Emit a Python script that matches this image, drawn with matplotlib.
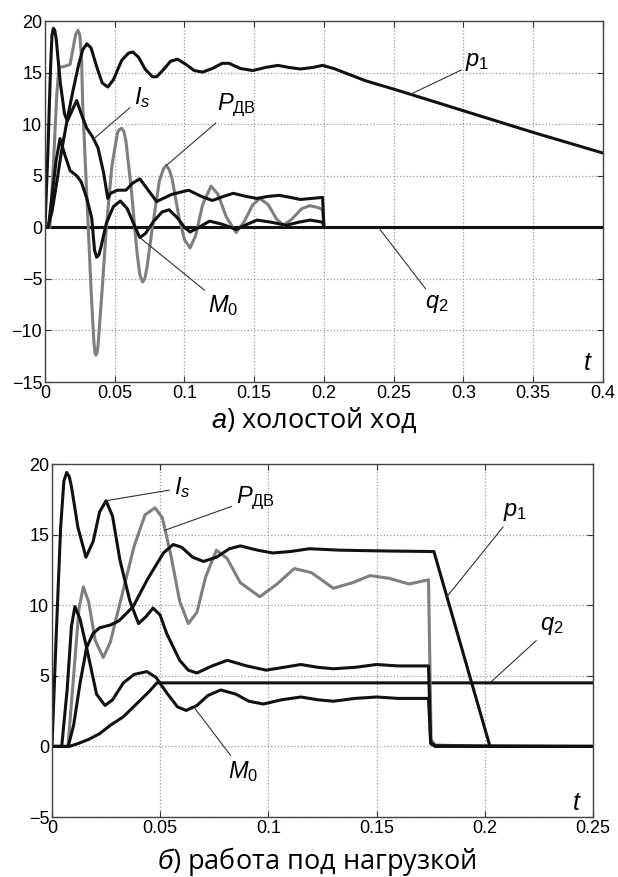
import matplotlib
matplotlib.use("Agg")
import matplotlib.pyplot as plt

# ---- а) холостой ход (no-load) ----
t_is_a = [0, 0.002, 0.004, 0.005, 0.006, 0.007, 0.008, 0.011, 0.014, 0.016, 0.019, 0.0227, 0.026, 0.030,
          0.034, 0.038, 0.042, 0.045, 0.047, 0.052, 0.058, 0.063, 0.068, 0.074, 0.080, 0.091, 0.103,
          0.112, 0.120, 0.128, 0.135, 0.144, 0.152, 0.160, 0.168, 0.176, 0.183, 0.191, 0.199, 0.2]
is_a = [0, 7, 15.5, 18.6, 19.3, 19.1, 18.3, 14.0, 11.0, 10.3, 11.2, 12.3, 11.0, 9.6,
        8.8, 7.7, 5.3, 2.8, 3.3, 3.6, 3.6, 4.3, 4.7, 3.6, 2.5, 3.2, 3.6,
        3.0, 2.6, 3.0, 3.3, 3.0, 2.8, 3.0, 3.1, 2.9, 2.7, 2.8, 2.9, 0]

t_pdv_a = [0, 0.0035, 0.006, 0.0085, 0.010, 0.014, 0.018, 0.021, 0.022, 0.0237, 0.025, 0.0262, 0.027,
           0.029, 0.031, 0.033, 0.035, 0.0358, 0.0365, 0.0373, 0.038, 0.041, 0.044, 0.048, 0.052,
           0.0535, 0.055, 0.0565, 0.058, 0.062, 0.066, 0.068, 0.070, 0.0715, 0.073, 0.077, 0.082,
           0.085, 0.087, 0.089, 0.091, 0.096, 0.100, 0.104, 0.108, 0.113, 0.119, 0.124, 0.130, 0.137,
           0.143, 0.149, 0.154, 0.160, 0.166, 0.171, 0.177, 0.184, 0.190, 0.196, 0.199, 0.2]
pdv_a = [0, 0, 6, 13, 15.5, 15.6, 15.8, 18, 18.7, 19.1, 18.6, 16.5, 12,
         6, 0, -6, -11, -12.1, -12.4, -12.2, -11.5, -6, 0, 6, 9.2,
         9.5, 9.6, 9.3, 8.4, 3.5, -2.5, -4.6, -5.3, -5.0, -4, 0, 4.5,
         5.7, 6.0, 5.6, 4.8, 1.0, -1.2, -2.0, -0.8, 2.2, 4.0, 3.2, 1.0, -0.5,
         0.6, 2.2, 2.8, 2.2, 0.8, 0.2, 0.8, 1.8, 2.1, 1.9, 1.7, 0]

t_m0_a = [0, 0.0024, 0.005, 0.008, 0.0108, 0.0143, 0.018, 0.0227, 0.026, 0.030, 0.0335, 0.0355, 0.037,
          0.0385, 0.040, 0.044, 0.049, 0.054, 0.059, 0.064, 0.068, 0.072, 0.078, 0.084, 0.089, 0.095,
          0.100, 0.104, 0.109, 0.118, 0.127, 0.137, 0.145, 0.152, 0.162, 0.173, 0.182, 0.190, 0.199, 0.2]
m0_a = [0, 0, 3, 6.5, 8.6, 7.0, 5.5, 5.0, 4.4, 2.8, 0.9, -2.2, -2.9,
        -2.7, -2.0, 0.4, 2.0, 2.55, 1.8, 0.2, -1.0, -0.6, 0.6, 1.5, 1.7, 0.9,
        0.0, -0.45, -0.1, 0.6, 0.3, -0.2, 0.3, 0.7, 0.5, 0.2, 0.5, 0.7, 0.5, 0]

t_p1_a = [0, 0.002, 0.005, 0.008, 0.012, 0.016, 0.020, 0.024, 0.027, 0.030, 0.033, 0.037, 0.041,
          0.045, 0.049, 0.055, 0.060, 0.063, 0.067, 0.072, 0.077, 0.080, 0.085, 0.090, 0.095, 0.101,
          0.107, 0.113, 0.120, 0.127, 0.132, 0.140, 0.149, 0.158, 0.167, 0.175, 0.183, 0.192, 0.199,
          0.207, 0.230, 0.250, 0.262, 0.300, 0.350, 0.400]
p1_a = [0, 0, 1.5, 4, 7.5, 10.5, 13.2, 15.7, 17.2, 17.8, 17.4, 15.6, 14.0,
        13.6, 14.3, 16.2, 16.9, 17.0, 16.5, 15.3, 14.6, 14.6, 15.3, 16.1, 16.3, 15.8,
        15.2, 15.05, 15.4, 15.9, 15.9, 15.4, 15.2, 15.5, 15.7, 15.5, 15.35, 15.5, 15.7,
        15.4, 14.2, 13.4, 12.9, 11.3, 9.2, 7.2]

t_q2_a = [0, 0.4]
q2_a = [0, 0]

# ---- б) работа под нагрузкой (loaded) ----
t_is_b = [0, 0.002, 0.004, 0.0055, 0.0068, 0.008, 0.009, 0.012, 0.0157, 0.019, 0.022, 0.025, 0.028,
          0.0314, 0.036, 0.040, 0.0435, 0.0467, 0.050, 0.053, 0.059, 0.063, 0.067, 0.074, 0.081,
          0.090, 0.099, 0.107, 0.115, 0.123, 0.130, 0.140, 0.150, 0.160, 0.174, 0.175, 0.177, 0.25]
is_b = [0, 8, 15.5, 18.8, 19.4, 19.1, 18.4, 15.5, 13.4, 14.5, 16.6, 17.4, 16.3,
        13.2, 10.3, 8.7, 9.2, 9.8, 9.3, 8.0, 6.1, 5.4, 5.2, 5.7, 6.1,
        5.7, 5.4, 5.6, 5.8, 5.6, 5.5, 5.6, 5.8, 5.7, 5.7, 0.3, 0.05, 0]

t_pdv_b = [0, 0.0074, 0.010, 0.0125, 0.0145, 0.017, 0.020, 0.0237, 0.027, 0.032, 0.038, 0.043, 0.0476,
           0.051, 0.055, 0.059, 0.063, 0.067, 0.071, 0.076, 0.081, 0.087, 0.096, 0.104, 0.112, 0.120,
           0.130, 0.139, 0.147, 0.156, 0.165, 0.174, 0.1752, 0.177, 0.200, 0.25]
pdv_b = [0, 0, 5, 9.8, 11.3, 10.2, 7.5, 6.3, 7.4, 10.5, 14.2, 16.4, 16.9,
         16.2, 13.5, 10.3, 8.7, 9.5, 12.0, 13.9, 13.3, 11.6, 10.6, 11.5, 12.6, 12.3,
         11.2, 11.6, 12.1, 11.9, 11.5, 11.8, 0.5, 0.1, 0, 0]

t_p1_b = [0, 0.0075, 0.010, 0.013, 0.016, 0.019, 0.022, 0.027, 0.031, 0.0375, 0.044, 0.0515, 0.056,
          0.060, 0.065, 0.070, 0.076, 0.082, 0.087, 0.095, 0.102, 0.110, 0.119, 0.133, 0.150, 0.1765,
          0.2024, 0.25]
p1_b = [0, 0, 1.5, 4.5, 7.0, 8.0, 8.4, 8.6, 8.9, 9.9, 11.8, 13.7, 14.3,
        14.1, 13.4, 13.1, 13.4, 14.0, 14.2, 13.9, 13.7, 13.8, 14.0, 13.9, 13.85, 13.8,
        0, 0]

t_m0_b = [0, 0.0045, 0.007, 0.009, 0.0106, 0.013, 0.016, 0.0206, 0.0245, 0.028, 0.033, 0.038, 0.0438,
          0.048, 0.053, 0.058, 0.062, 0.067, 0.072, 0.078, 0.085, 0.091, 0.0977, 0.106, 0.115, 0.123,
          0.130, 0.140, 0.150, 0.160, 0.174, 0.175, 0.177, 0.25]
m0_b = [0, 0, 4, 8.5, 9.9, 9.0, 7.0, 3.7, 2.9, 3.3, 4.5, 5.1, 5.3,
        4.9, 3.8, 2.8, 2.55, 2.9, 3.6, 4.0, 3.7, 3.2, 3.0, 3.3, 3.5, 3.3,
        3.2, 3.4, 3.5, 3.4, 3.4, 0.2, 0, 0]

t_q2_b = [0, 0.008, 0.012, 0.017, 0.022, 0.027, 0.033, 0.037, 0.041, 0.045, 0.0485, 0.25]
q2_b = [0, 0, 0.2, 0.5, 0.9, 1.5, 2.1, 2.7, 3.3, 3.9, 4.5, 4.5]

BLACK = "#111111"
GRAY = "#7f7f7f"

plt.rcParams["font.family"] = ["Liberation Sans", "DejaVu Sans"]
plt.rcParams["mathtext.fontset"] = "custom"
plt.rcParams["mathtext.it"] = "Liberation Sans:italic"
plt.rcParams["mathtext.rm"] = "Liberation Sans"


def style_axes(ax, xlim, ylim, xticks, yticks):
    ax.set_xlim(*xlim)
    ax.set_ylim(*ylim)
    ax.set_xticks(xticks)
    ax.set_yticks(yticks)
    ax.set_xticklabels([f"{v:g}" for v in xticks])
    ax.set_yticklabels([f"{v:g}".replace("-", "\u2212") for v in yticks])
    ax.grid(True, linestyle=":", color="#999999", linewidth=0.9)
    ax.tick_params(direction="in", top=True, right=True, length=4, labelsize=13, pad=2,
                   color="#333333")
    for s in ax.spines.values():
        s.set_color("#444444")
        s.set_linewidth(1.0)


def label(ax, text, xy, xytext):
    ax.annotate(text, xy=xy, xytext=xytext, fontsize=17, ha="center", va="center",
                arrowprops=dict(arrowstyle="-", color="#333333", lw=0.8,
                                shrinkA=1, shrinkB=0))


def main():
    fig = plt.figure(figsize=(6.18, 8.77), dpi=100)
    ax1 = fig.add_axes([0.0728, 0.5644, 0.9029, 0.4116])
    ax2 = fig.add_axes([0.0841, 0.0684, 0.8754, 0.4025])

    # top chart
    lw = 2.2
    ax1.plot(t_q2_a, q2_a, color=BLACK, lw=lw)
    ax1.plot(t_pdv_a, pdv_a, color=GRAY, lw=lw)
    ax1.plot(t_m0_a, m0_a, color=BLACK, lw=lw)
    ax1.plot(t_is_a, is_a, color=BLACK, lw=lw)
    ax1.plot(t_p1_a, p1_a, color=BLACK, lw=lw)
    style_axes(ax1, (0, 0.4), (-15, 20),
               [0, 0.05, 0.1, 0.15, 0.2, 0.25, 0.3, 0.35, 0.4], [-15, -10, -5, 0, 5, 10, 15, 20])
    label(ax1, r"$I_s$", (0.036, 8.7), (0.0695, 12.6))
    label(ax1, r"$P_{\mathrm{ДВ}}$", (0.087, 6.0), (0.137, 11.8))
    label(ax1, r"$p_1$", (0.262, 12.9), (0.310, 16.0))
    label(ax1, r"$M_0$", (0.068, -1.0), (0.128, -7.6))
    label(ax1, r"$q_2$", (0.239, 0), (0.281, -7.4))
    ax1.text(0.389, -13.2, r"$t$", fontsize=18, ha="center", va="center")

    # bottom chart
    ax2.plot(t_q2_b, q2_b, color=BLACK, lw=lw)
    ax2.plot(t_pdv_b, pdv_b, color=GRAY, lw=lw)
    ax2.plot(t_m0_b, m0_b, color=BLACK, lw=lw)
    ax2.plot(t_p1_b, p1_b, color=BLACK, lw=lw)
    ax2.plot(t_is_b, is_b, color=BLACK, lw=lw)
    style_axes(ax2, (0, 0.25), (-5, 20),
               [0, 0.05, 0.1, 0.15, 0.2, 0.25], [-5, 0, 5, 10, 15, 20])
    label(ax2, r"$I_s$", (0.025, 17.4), (0.060, 18.3))
    label(ax2, r"$P_{\mathrm{ДВ}}$", (0.052, 15.3), (0.094, 17.6))
    label(ax2, r"$p_1$", (0.1825, 10.6), (0.214, 16.6))
    label(ax2, r"$q_2$", (0.2024, 4.5), (0.231, 8.5))
    label(ax2, r"$M_0$", (0.066, 2.7), (0.0883, -1.8))
    ax2.text(0.2426, -4.0, r"$t$", fontsize=18, ha="center", va="center")

    fig.text(0.508, 1 - 420 / 877, r"$\mathit{а}$) холостой ход", fontsize=19.5,
             family=["Open Sans", "DejaVu Sans"], ha="center", va="center")
    fig.text(0.512, 1 - 862 / 877, r"$\mathit{б}$) работа под нагрузкой", fontsize=19.5,
             family=["Open Sans", "DejaVu Sans"], ha="center", va="center")

    fig.savefig("out.png", dpi=100)


if __name__ == "__main__":
    main()
